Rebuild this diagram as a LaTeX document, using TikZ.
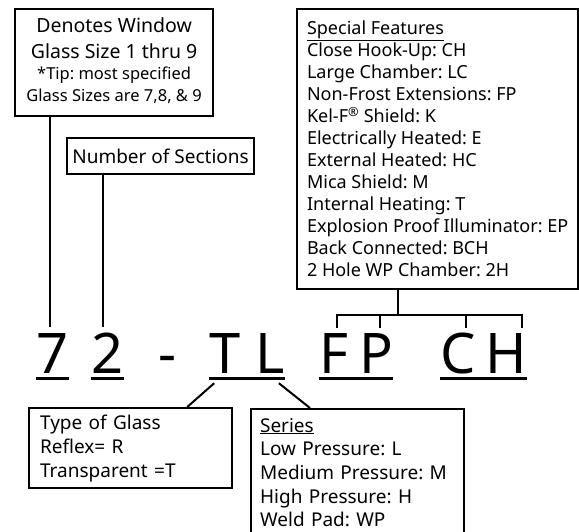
\documentclass[tikz,border=0pt]{standalone}
\usepackage{fontspec}
\setmainfont{Noto Sans}
\usetikzlibrary{positioning}
\frenchspacing

\begin{document}
\begin{tikzpicture}[x=1pt,y=-1pt,
  infobox/.style={rectangle,draw=black,line width=2.2pt,inner sep=0pt,anchor=north west},
  bigchar/.style={inner sep=0pt,anchor=base,text height=40pt,text depth=0pt,
    font=\fontsize{56}{56}\selectfont},
  conn/.style={draw=black,line width=2pt},
  uline/.style={draw=black,line width=3pt},
]
\useasboundingbox (0,0) rectangle (579,531);

% Boxes
\node[infobox,minimum width=198pt,minimum height=107pt,align=center,
  font=\fontsize{19.5}{26}\selectfont] (denotes) at (14,8)
  {Denotes Window\\Glass Size 1 thru 9\\[-5pt]
   {\fontsize{16.5}{20}\selectfont *Tip: most specified}\\[-4pt]
   {\fontsize{16.5}{20}\selectfont Glass Sizes are 7,8, \& 9}\\[-20pt]};
\node[infobox,minimum width=187pt,minimum height=36pt,
  font=\fontsize{19}{20}\selectfont] (sections) at (66,137) {Number of Sections};
\node[infobox,minimum width=281pt,minimum height=280pt,align=left,
  font=\fontsize{18}{22}\selectfont] (special) at (296,8)
  {\underline{Special Features}\\Close Hook-Up: CH\\Large Chamber: LC\\
   Non-Frost Extensions: FP\\Kel-F\textsuperscript{®} Shield: K\\Electrically Heated: E\\
   External Heated: HC\\Mica Shield: M\\Internal Heating: T\\
   Explosion Proof Illuminator: EP\\Back Connected: BCH\\2 Hole WP Chamber: 2H};
\node[infobox,minimum width=203pt,minimum height=80pt,text width=181pt,align=left,
  font=\fontsize{19}{24}\selectfont] (glass) at (28,407)
  {Type of Glass\\Reflex= R\\Transparent =T};
\node[infobox,minimum width=213pt,minimum height=127pt,text width=195pt,align=left,
  font=\fontsize{19}{23.7}\selectfont] (series) at (250,408)
  {\underline{Series}\\Low Pressure: L\\Medium Pressure: M\\High Pressure: H\\Weld Pad: WP};

% Model code
\node[bigchar] (seven) at (52.5,373) {7};
\node[bigchar] (two) at (107.5,373) {2};
\node[bigchar] (hyph) at (168,373) {-};
\node[bigchar] (tee) at (225,373) {T};
\node[bigchar] (ell) at (270,373) {L};
\node[bigchar] (eff) at (334,373) {F};
\node[bigchar] (pee) at (376,373) {P};
\node[bigchar] (cee) at (458,373) {C};
\node[bigchar] (aitch) at (506,373) {H};

% Underlines
\draw[uline] ([yshift=-5pt]seven.south west) -- ([yshift=-5pt]seven.south east);
\draw[uline] ([yshift=-5pt]two.south west) -- ([yshift=-5pt]two.south east);
\draw[uline] ([yshift=-5pt]tee.south west) -- ([yshift=-5pt]ell.south east);
\draw[uline] ([yshift=-5pt]eff.south west) -- ([yshift=-5pt]pee.south east);
\draw[uline] ([yshift=-5pt]cee.south west) -- ([yshift=-5pt]aitch.south east);

% Leaders to the top boxes
\coordinate (seventop) at ([xshift=-2.5pt,yshift=6pt]seven.north);
\coordinate (twotop) at ([xshift=-5pt,yshift=6pt]two.north);
\draw[conn] (seventop |- denotes.south) -- (seventop);
\draw[conn] (twotop |- sections.south) -- (twotop);

% Bracket for special features
\coordinate (fork) at ([xshift=-39.5pt,yshift=-25pt]special.south);
\coordinate (tickF) at ([xshift=3pt,yshift=5pt]eff.north);
\coordinate (tickP) at ([xshift=4pt,yshift=5pt]pee.north);
\coordinate (tickC) at ([xshift=8pt,yshift=5pt]cee.north);
\coordinate (tickH) at ([xshift=16pt,yshift=5pt]aitch.north);
\draw[conn] (fork |- special.south) -- (fork);
\draw[conn] (tickF) |- (fork -| tickH) -- (tickH);
\draw[conn] (tickP) -- (tickP |- fork);
\draw[conn] (tickC) -- (tickC |- fork);

% Leaders to the bottom boxes
\draw[conn] ([shift={(5pt,-10pt)}]tee.south west) -- ([xshift=-46pt]glass.north east);
\draw[conn] ([shift={(-6pt,-10pt)}]ell.south east) -- ([xshift=60pt]series.north west);

\end{tikzpicture}
\end{document}
